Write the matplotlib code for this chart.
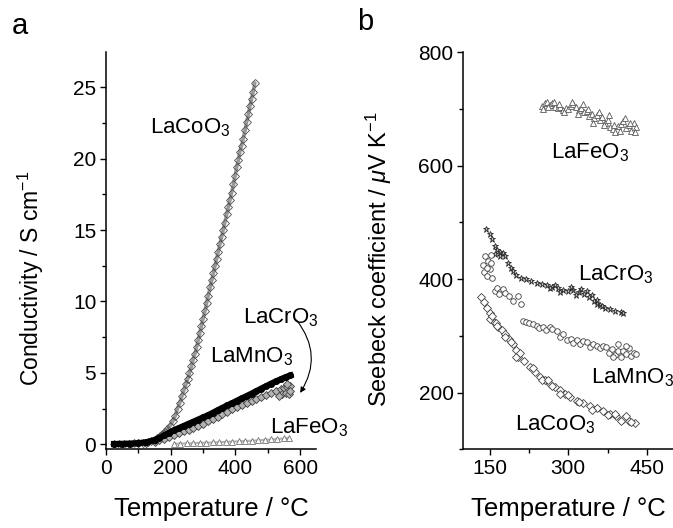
import matplotlib
matplotlib.use("Agg")
import matplotlib.pyplot as plt
from matplotlib.ticker import MultipleLocator

plt.rcParams['font.family'] = ['Liberation Sans', 'DejaVu Sans']
plt.rcParams['mathtext.fontset'] = 'custom'
plt.rcParams['mathtext.rm'] = 'Liberation Sans'
plt.rcParams['mathtext.it'] = 'Liberation Sans:italic'
plt.rcParams['mathtext.bf'] = 'Liberation Sans:bold'

# ---------------- Panel a: conductivity ----------------
co_T = [25, 40, 55, 70, 85, 100, 115, 130, 140, 150, 158, 166, 174, 182, 190, 198, 206, 214, 221, 228,
        235, 241, 247, 253, 258, 264, 269, 275, 280, 285, 290, 295, 300, 306, 311, 316, 322, 327, 332, 337,
        342, 347, 352, 357, 362, 367, 373, 378, 383, 388, 394, 399, 404, 409, 414, 419, 424, 430, 435, 440,
        445, 450, 455, 460]
co_sigma = [0.02, 0.03, 0.04, 0.05, 0.06, 0.08, 0.11, 0.16, 0.21, 0.3, 0.42, 0.58, 0.72, 0.88, 1.05, 1.3, 1.6, 2.0, 2.5, 2.9,
            3.4, 3.8, 4.2, 4.6, 5.0, 5.45, 5.9, 6.35, 6.8, 7.3, 7.8, 8.3, 8.8, 9.35, 9.9, 10.4, 11.0, 11.5, 12.0, 12.5,
            13.0, 13.5, 14.0, 14.5, 15.0, 15.5, 16.1, 16.6, 17.1, 17.6, 18.2, 18.8, 19.4, 19.9, 20.5, 20.9, 21.4, 22.0, 22.6, 23.1,
            23.7, 24.2, 24.7, 25.3]

mn_T = [25, 50, 75, 100, 125, 150, 165, 180, 195, 210, 225, 240, 255, 270, 285, 300, 315, 330, 345, 360,
        375, 390, 405, 420, 435, 450, 465, 480, 495, 510, 525, 540, 555, 570]
mn_sigma = [0.02, 0.03, 0.05, 0.08, 0.14, 0.3, 0.45, 0.62, 0.8, 0.98, 1.13, 1.28, 1.43, 1.58, 1.73, 1.88, 2.03, 2.2, 2.38, 2.55,
            2.72, 2.88, 3.05, 3.22, 3.38, 3.55, 3.72, 3.9, 4.07, 4.24, 4.4, 4.55, 4.7, 4.82]

cr_T = [100, 125, 150, 165, 180, 195, 210, 225, 240, 255, 270, 285, 300, 315, 330, 345, 360, 375, 390, 405,
        420, 435, 450, 465, 480, 495, 510, 525, 540, 550, 560, 570, 545, 555, 565, 570, 535, 560]
cr_sigma = [0.06, 0.1, 0.18, 0.28, 0.4, 0.52, 0.65, 0.78, 0.9, 1.03, 1.16, 1.29, 1.42, 1.6, 1.77, 1.93, 2.1, 2.27, 2.44, 2.6,
            2.77, 2.9, 3.05, 3.18, 3.3, 3.44, 3.58, 3.72, 3.85, 3.92, 3.98, 4.05, 3.5, 3.6, 3.55, 3.7, 3.4, 4.2]

fe_T = [210, 230, 250, 270, 290, 310, 330, 350, 370, 390, 410, 430, 450, 470, 490, 510, 530, 550, 565]
fe_sigma = [0.03, 0.05, 0.06, 0.08, 0.1, 0.11, 0.13, 0.15, 0.17, 0.19, 0.21, 0.23, 0.25, 0.28, 0.31, 0.34, 0.37, 0.41, 0.45]

# ---------------- Panel b: Seebeck coefficient ----------------
feS_T = [250, 255, 260, 265, 270, 275, 280, 285, 290, 295, 300, 305, 310, 315, 320, 325, 330, 335, 340, 345,
         350, 355, 360, 365, 370, 375, 380, 385, 390, 395, 400, 405, 410, 415, 420, 425, 430,
         252, 262, 272, 282, 292, 308, 318, 328, 338, 348, 358, 368, 378, 388, 398, 408, 418, 428]
feS_S = [706, 710, 712, 707, 710, 704, 701, 703, 699, 702, 700, 706, 709, 704, 698, 701, 694, 697, 688, 692,
         684, 690, 680, 686, 676, 681, 668, 664, 660, 670, 674, 678, 666, 671, 662, 675, 668,
         700, 703, 713, 708, 695, 712, 692, 708, 700, 676, 695, 672, 690, 672, 662, 684, 676, 660]

crS_T = [144, 150, 155, 160, 165, 170, 175, 180, 185, 190, 195, 200, 210, 220, 230, 240, 250, 260, 270, 280,
         290, 300, 310, 320, 330, 340, 350, 355, 360, 370, 380, 390, 400, 405,
         160, 170, 265, 275, 285, 305, 315, 325, 335, 345, 355, 365]
crS_S = [489, 480, 470, 458, 452, 448, 446, 440, 428, 420, 414, 408, 402, 400, 397, 394, 392, 390, 387, 385,
         381, 379, 381, 378, 374, 368, 361, 357, 355, 350, 347, 344, 342, 341,
         445, 440, 384, 390, 378, 386, 372, 383, 379, 372, 364, 352]

mnS_T = [138, 140, 142, 145, 148, 150, 152, 155, 146, 153, 160, 165, 170, 175, 180, 168, 188, 195, 205, 210,
         214, 220, 225, 233, 240, 245, 252, 258, 265, 270, 278, 284, 290, 297, 305, 310, 316, 322, 328, 335,
         342, 348, 354, 360, 366, 373, 378, 384, 390, 395, 400, 405, 410, 415, 420, 425, 430, 385, 395, 410]
mnS_S = [425, 412, 440, 405, 432, 418, 442, 402, 420, 428, 380, 384, 378, 382, 376, 374, 370, 362, 370, 356,
         327, 325, 322, 321, 318, 314, 316, 311, 315, 312, 309, 298, 303, 292, 295, 288, 292, 286, 291, 289,
         280, 286, 283, 278, 282, 280, 270, 276, 266, 274, 262, 274, 268, 278, 265, 270, 268, 262, 285, 282]

coS_T = [134, 140, 145, 150, 157, 162, 167, 173, 179, 187, 195, 200, 205, 215, 227, 236, 246, 255, 265, 275,
         284, 293, 303, 316, 329, 341, 354, 367, 380, 392, 405, 416, 427,
         150, 155, 165, 180, 200, 208, 190, 232, 250, 262, 270, 285, 300, 320, 345, 375, 390, 400, 410, 420]
coS_S = [369, 360, 350, 340, 327, 322, 315, 310, 303, 295, 286, 275, 263, 255, 245, 236, 228, 222, 216, 210,
         204, 198, 192, 186, 181, 176, 172, 167, 163, 158, 154, 150, 146,
         330, 335, 318, 298, 262, 270, 290, 244, 222, 222, 212, 198, 196, 183, 170, 160, 163, 150, 158, 148]

fig = plt.figure(figsize=(6.73, 5.28), dpi=100)
W, H = 673.0, 528.0
ax_a = fig.add_axes([106 / W, 1 - 449.3 / H, 210.3 / W, 397 / H])
ax_b = fig.add_axes([463.3 / W, 1 - 449.3 / H, 209.8 / W, 397 / H])

for ax in (ax_a, ax_b):
    ax.spines['top'].set_visible(False)
    ax.spines['right'].set_visible(False)
    for s in ('left', 'bottom'):
        ax.spines[s].set_linewidth(1.1)
    ax.tick_params(which='major', direction='out', length=4.5, width=1.0, labelsize=15, pad=2.5)
    ax.tick_params(which='minor', direction='out', length=3.0, width=1.0)

# panel a
ax_a.plot(co_T, co_sigma, color='0.6', lw=2.6, solid_capstyle='round', zorder=3)
ax_a.plot(co_T, co_sigma, ls='none', marker='D', ms=4.2, mfc='none', mec='0.3', mew=0.6, zorder=3)
ax_a.plot(fe_T, fe_sigma, color='0.7', lw=1.5, marker='^', ms=4.2, mfc='white', mec='0.45', mew=0.6, zorder=2)
ax_a.plot(cr_T, cr_sigma, ls='none', marker='D', ms=4.5, mfc='0.7', mec='0.25', mew=0.6, zorder=2)
ax_a.plot(mn_T, mn_sigma, color='black', lw=4.5, marker='o', ms=4, mfc='black', mec='black', zorder=4)

ax_a.set_xlim(0, 650)
ax_a.set_ylim(-0.35, 27.45)
ax_a.xaxis.set_major_locator(MultipleLocator(200))
ax_a.xaxis.set_minor_locator(MultipleLocator(100))
ax_a.yaxis.set_major_locator(MultipleLocator(5))
ax_a.yaxis.set_minor_locator(MultipleLocator(2.5))
ax_a.set_xlabel('Temperature / °C', fontsize=18.5, labelpad=14)
ax_a.set_ylabel(r'Conductivity / S cm$^{-1}$', fontsize=16.5)
ax_a.yaxis.set_label_coords(-0.285, 0.43)

lab_fs = 16
ax_a.text(136, 21.8, r'LaCoO$_3$', fontsize=lab_fs, ha='left', va='baseline')
ax_a.text(424, 8.5, r'LaCrO$_3$', fontsize=lab_fs, ha='left', va='baseline')
ax_a.text(321.5, 5.77, r'LaMnO$_3$', fontsize=lab_fs, ha='left', va='baseline')
ax_a.text(507, 0.79, r'LaFeO$_3$', fontsize=lab_fs, ha='left', va='baseline', clip_on=False)
ax_a.annotate('', xy=(600, 3.6), xytext=(589, 8.7),
              arrowprops=dict(arrowstyle='-|>', connectionstyle='arc3,rad=-0.35',
                              lw=0.8, color='black', mutation_scale=8, shrinkA=0, shrinkB=0))

# panel b
mk = dict(ls='none', ms=4.0, mfc='white', mew=0.6)
ax_b.plot(feS_T, feS_S, marker='^', mec='0.35', **mk)
ax_b.plot(crS_T, crS_S, marker='*', mec='0.15', ls='none', ms=4.5, mfc='0.75', mew=0.6)
ax_b.plot(mnS_T, mnS_S, marker='o', mec='0.25', **mk)
ax_b.plot(coS_T, coS_S, marker='D', mec='0.25', **mk)

ax_b.set_xlim(100, 500)
ax_b.set_ylim(100, 800)
ax_b.xaxis.set_major_locator(MultipleLocator(150))
ax_b.xaxis.set_minor_locator(MultipleLocator(75))
ax_b.yaxis.set_major_locator(MultipleLocator(200))
ax_b.yaxis.set_minor_locator(MultipleLocator(100))
ax_b.set_yticks([200, 400, 600, 800])
ax_b.set_xticks([150, 300, 450])
ax_b.set_xlabel('Temperature / °C', fontsize=18.5, labelpad=14)
ax_b.set_ylabel(r'Seebeck coefficient / $\mathit{\mu}$V K$^{-1}$', fontsize=17)
ax_b.yaxis.set_label_coords(-0.33, 0.48)

ax_b.text(267.6, 613, r'LaFeO$_3$', fontsize=lab_fs, ha='left', va='baseline')
ax_b.text(318.4, 398, r'LaCrO$_3$', fontsize=lab_fs, ha='left', va='baseline')
ax_b.text(344, 216, r'LaMnO$_3$', fontsize=lab_fs, ha='left', va='baseline', clip_on=False)
ax_b.text(197.7, 133.5, r'LaCoO$_3$', fontsize=lab_fs, ha='left', va='baseline')

fig.text(12 / W, 1 - 34 / H, 'a', fontsize=21, ha='left', va='baseline')
fig.text(357 / W, 1 - 30 / H, 'b', fontsize=21, ha='left', va='baseline')

fig.savefig('out.png', dpi=100)
